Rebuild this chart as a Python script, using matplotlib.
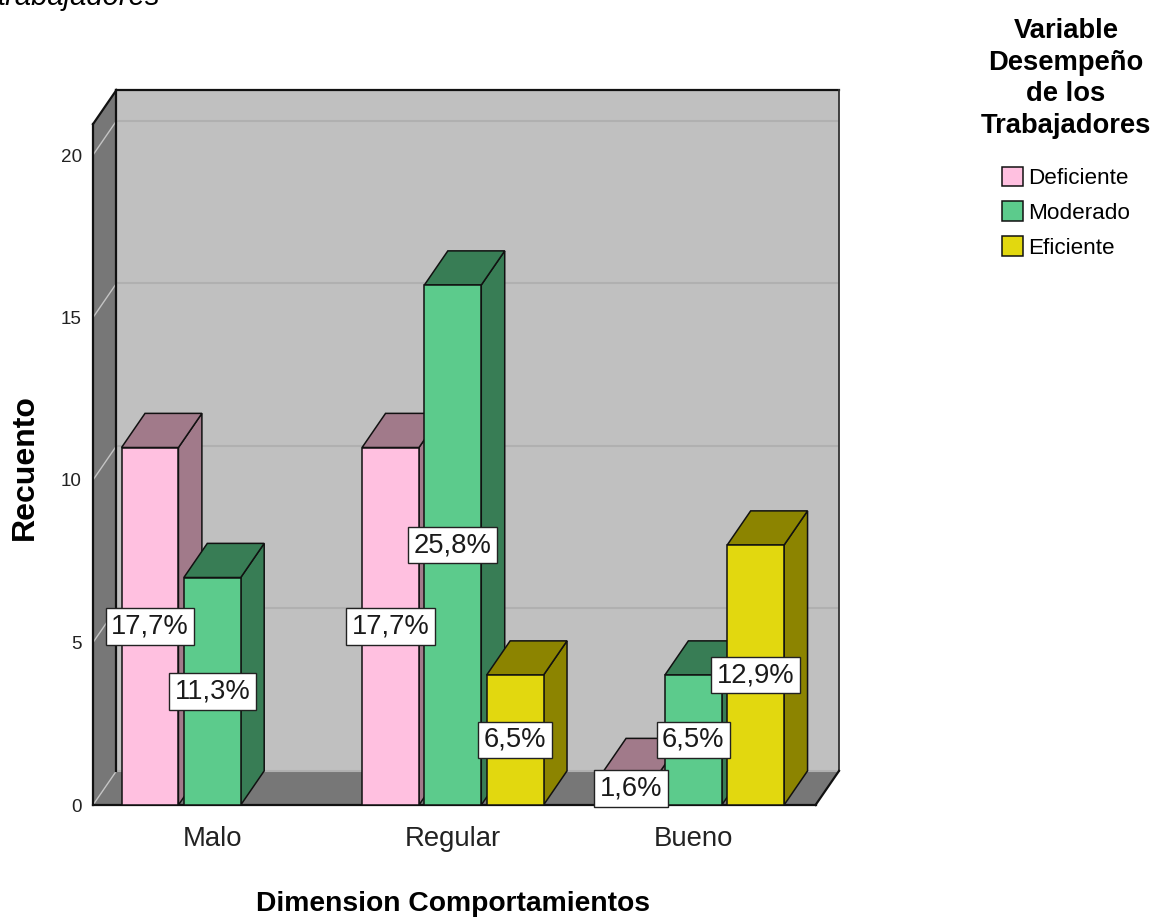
import numpy as np
from matplotlib import pyplot as plt
from matplotlib import font_manager
from matplotlib.patches import Polygon, Patch

# data (counts, N = 62)
categories = ['Malo', 'Regular', 'Bueno']
series = ['Deficiente', 'Moderado', 'Eficiente']
deficiente = [11, 11, 1]
moderado = [7, 16, 4]
eficiente = [0, 4, 8]
yticks = [0, 5, 10, 15, 20]
total = 62

front_colors = ['#ffc0e0', '#5ccb8c', '#e2d80f']
side_colors = ['#a17a8a', '#387d55', '#8c8400']

# the picture looks horizontally squeezed, so a narrow face fits best
names = {f.name for f in font_manager.fontManager.ttflist}
if 'Liberation Sans Narrow' in names:
    NARROW = 'Liberation Sans Narrow'
    k = 1.0
else:
    NARROW = 'Liberation Sans'
    k = 0.84
WIDE = 'Liberation Sans'

W, H = 1155, 918
fig = plt.figure(figsize=(W / 100, H / 100), dpi=100)
ax = fig.add_axes([93 / W, 1 - 805 / H, (839 - 93) / W, (805 - 90) / H])

# 3d box geometry (in data units)
xl, xr = -0.496, 2.508
top = 20.95
dx, dy = 0.0975, 1.05
width, step = 0.2365, 0.259

ax.set_xlim(xl, xr + dx)
ax.set_ylim(0, top + dy)

# walls
ax.add_patch(Polygon([(xl + dx, dy), (xr + dx, dy), (xr + dx, top + dy), (xl + dx, top + dy)],
                     closed=True, fc='#c0c0c0', ec='none', zorder=1))
ax.add_patch(Polygon([(xl, 0), (xl + dx, dy), (xl + dx, top + dy), (xl, top)],
                     closed=True, fc='#777777', ec='none', zorder=1))
ax.add_patch(Polygon([(xl, 0), (xr, 0), (xr + dx, dy), (xl + dx, dy)],
                     closed=True, fc='#777777', ec='none', zorder=1))
for v in yticks:
    ax.plot([xl + dx, xr + dx], [v + dy, v + dy], color='#b0b0b0', lw=1.5, zorder=2)
    ax.plot([xl, xl + dx], [v, v + dy], color='#c4c4c4', lw=1.0, zorder=2)

edge = dict(color='#111111', lw=1.6, zorder=3, clip_on=False, solid_capstyle='projecting')
ax.plot([xl, xl], [0, top], **edge)
ax.plot([xl, xl + dx], [top, top + dy], **edge)
ax.plot([xl + dx, xr + dx], [top + dy, top + dy], **edge)
ax.plot([xl + dx, xl + dx], [dy, top + dy], **edge)
ax.plot([xr + dx, xr + dx], [dy, top + dy], color='#333333', lw=1.3, zorder=3, clip_on=False)
ax.plot([xl, xr], [0, 0], **edge)
ax.plot([xr, xr + dx], [0, dy], **edge)

# bars, drawn left to right so later fronts cover earlier sides
values = [deficiente, moderado, eficiente]
z = 10
for g in range(len(categories)):
    for s in range(len(series)):
        v = values[s][g]
        if v == 0:
            continue
        x = g + (s - 1) * step
        x0, x1 = x - width / 2, x + width / 2
        ax.add_patch(Polygon([(x1, 0), (x1 + dx, dy), (x1 + dx, v + dy), (x1, v)], closed=True,
                             fc=side_colors[s], ec='#111111', lw=1.1, zorder=z))
        ax.add_patch(Polygon([(x0, v), (x0 + dx, v + dy), (x1 + dx, v + dy), (x1, v)], closed=True,
                             fc=side_colors[s], ec='#111111', lw=1.1, zorder=z + 1))
        ax.bar(x, v, width=width, color=front_colors[s], edgecolor='#111111', linewidth=1.1,
               zorder=z + 2)
        z += 3

# percentage labels
for g in range(len(categories)):
    for s in range(len(series)):
        v = values[s][g]
        if v == 0:
            continue
        x = g + (s - 1) * step
        pct = format(100 * v / total, '.1f').replace('.', ',') + '%'
        ax.text(x, v / 2, pct, ha='center', va='center', family=NARROW, fontsize=23 * k * 1.02,
                color='#1a1a1a', zorder=200,
                bbox=dict(boxstyle='square,pad=0.2', fc='white', ec='#222222', lw=1.0))

for sp in ax.spines.values():
    sp.set_visible(False)
ax.set_yticks(yticks)
ax.set_yticklabels([str(t) for t in yticks], family=NARROW, fontsize=15 * k * 1.08,
                   color='#222222')
ax.set_xticks(range(len(categories)))
ax.set_xticklabels(categories, family=NARROW, fontsize=22 * k * 1.07, color='#222222')
ax.tick_params(axis='y', length=0, pad=8)
ax.tick_params(axis='x', length=0, pad=15)

fig.text(453 / W, 1 - 904 / H, 'Dimension Comportamientos', ha='center', va='center',
         family=NARROW, fontweight='bold', fontsize=23.5 * k * 1.03)
fig.text(25 / W, 1 - 467 / H, 'Recuento', ha='center', va='center', rotation=90,
         family=WIDE, fontweight='bold', fontsize=23)
fig.text(-0.002, 1 - 5 / H, 'trabajadores', ha='left', va='baseline', family=WIDE,
         style='italic', fontsize=21)

handles = [Patch(facecolor=c, edgecolor='#111111', linewidth=1.1) for c in front_colors]
leg = fig.legend(handles, series, loc='upper center', bbox_to_anchor=(1066 / W, 1 - 7 / H),
                 frameon=False, prop={'family': NARROW, 'size': 18 * k * 1.07},
                 title='Variable\nDesempeño\nde los\nTrabajadores',
                 title_fontproperties={'family': NARROW, 'weight': 'bold', 'size': 23.5 * k},
                 handlelength=0.95, handleheight=0.95, handletextpad=0.25, labelspacing=0.55,
                 borderpad=0)
leg.get_title().set_linespacing(1.28)
leg.get_title().set_multialignment('center')
# more room between the legend title and its entries
leg._legend_box.sep += 11

fig.savefig('out.png', dpi=100)
